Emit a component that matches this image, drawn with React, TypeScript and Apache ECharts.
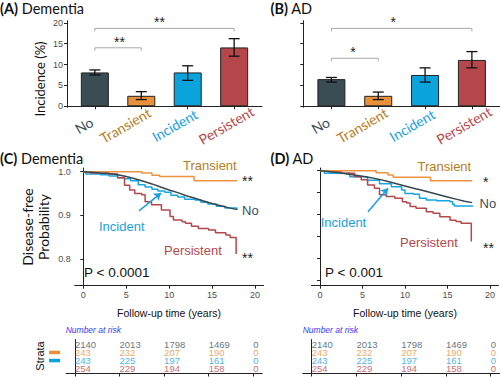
import React, { useEffect, useRef } from 'react';
import * as echarts from 'echarts';

const groups = ['No', 'Transient', 'Incident', 'Persistent'];
const barColors = ['#3B4D54', '#E8913A', '#0AA3DB', '#B5474B'];
const labelColors = ['#3B4F5A', '#B57D22', '#1AA0DC', '#B5474B'];
const lineColors = ['#37474F', '#EE9240', '#16A6E1', '#B5474B'];
const tableColors = ['#3B4F5A', '#E8913A', '#1AA0DC', '#B5474B'];
const labelShift = [-11, -16, -13, -8];

// Panel A / B: incidence (%) with 95% CI
const dementiaIncidence = [8.1, 2.5, 8.1, 14.1];
const dementiaLow = [7.5, 1.6, 6.2, 12.0];
const dementiaHigh = [8.7, 3.5, 9.7, 16.2];
const adIncidence = [6.5, 2.5, 7.5, 11.1];
const adLow = [5.8, 1.6, 5.8, 9.2];
const adHigh = [6.9, 3.4, 9.2, 13.1];
const incidenceTicks = [0, 5, 10, 15, 20];

// brackets: [from group, to group, height, star position]
const dementiaBrackets = [[1, 2, 14.0, 1.53], [1, 4, 18.66, 2.39]];
const dementiaStars = ['**', '**'];
const adBrackets = [[1, 2, 11.5, 1.46], [1, 4, 18.66, 2.32]];
const adStars = ['*', '*'];

// Kaplan-Meier curves: [time (years), disease-free probability]
const kmDemNo = [[0, 1.0], [1, 0.999], [2, 0.997], [3, 0.996], [4, 0.993], [5, 0.989], [6, 0.984], [7, 0.978], [8, 0.972], [9, 0.965], [10, 0.958], [11, 0.952], [12, 0.945], [13, 0.939], [14, 0.933], [15, 0.927], [16, 0.922], [17, 0.917], [17.9, 0.913]];
const kmDemTransient = [[0, 1.0], [6.8, 0.997], [8.0, 0.992], [8.9, 0.989], [12.9, 0.979], [17.9, 0.979]];
const kmDemIncident = [[0, 1.0], [0.3, 0.995], [2, 0.993], [3, 0.99], [4, 0.986], [4.8, 0.984], [5.5, 0.979], [6.4, 0.97], [7.2, 0.965], [8, 0.96], [8.7, 0.956], [9.5, 0.953], [10.2, 0.946], [11, 0.942], [11.8, 0.937], [13, 0.935], [13.7, 0.93], [14.5, 0.926], [15.5, 0.921], [16.5, 0.917], [17.9, 0.912]];
const kmDemPersistent = [[0, 1.0], [0.8, 0.997], [2.9, 0.995], [4.0, 0.986], [4.8, 0.969], [5.4, 0.958], [6.0, 0.95], [6.8, 0.947], [7.2, 0.931], [7.95, 0.924], [9.1, 0.912], [10.1, 0.897], [10.5, 0.889], [11.5, 0.885], [11.9, 0.882], [12.6, 0.875], [13.4, 0.87], [14.6, 0.866], [15.4, 0.86], [16.6, 0.855], [17.1, 0.849], [17.8, 0.811]];

const kmAdNo = [[0, 1.0], [1, 0.998], [2, 0.996], [3, 0.993], [4, 0.99], [5, 0.987], [6, 0.984], [7, 0.98], [8, 0.975], [9, 0.97], [10, 0.965], [11, 0.96], [12, 0.955], [13, 0.95], [14, 0.945], [15, 0.94], [16, 0.935], [17, 0.93], [17.9, 0.927]];
const kmAdTransient = [[0, 1.0], [6.6, 0.995], [8.0, 0.99], [8.6, 0.985], [13.0, 0.977], [17.9, 0.977]];
const kmAdIncident = [[0, 1.0], [0.5, 0.994], [3.5, 0.986], [5.6, 0.978], [7.0, 0.97], [8.4, 0.963], [9.6, 0.956], [10.0, 0.948], [11.0, 0.946], [11.7, 0.937], [12.5, 0.933], [13.7, 0.931], [15.3, 0.929], [15.6, 0.923], [15.8, 0.919], [18.0, 0.919]];
const kmAdPersistent = [[0, 1.0], [0.94, 0.998], [2.5, 0.994], [4.07, 0.986], [4.85, 0.979], [5.6, 0.967], [6.4, 0.96], [7.0, 0.945], [7.8, 0.941], [8.8, 0.937], [9.7, 0.929], [10.2, 0.926], [10.6, 0.918], [11.3, 0.914], [12.5, 0.906], [13.3, 0.903], [14.1, 0.895], [15.3, 0.887], [16.0, 0.884], [16.6, 0.88], [17.8, 0.838]];

const kmTimeTicks = [0, 5, 10, 15, 20];
const kmDemTicks = [0.8, 0.9, 1.0];
const kmAdTicks = [0.75, 0.8, 0.85, 0.9, 0.95, 1.0];

// Incident arrows: [[t0, s0], [t1, s1]]
const demArrow = [[6.49, 0.91], [9.05, 0.951]];
const adArrow = [[5.65, 0.906], [8.0, 0.96]];

// Number at risk
const riskTimes = [0, 5, 10, 15, 20];
const riskNo = [2140, 2013, 1798, 1469, 0];
const riskTransient = [243, 232, 207, 190, 0];
const riskIncident = [243, 225, 197, 161, 0];
const riskPersistent = [254, 229, 194, 158, 0];

const sans = 'Liberation Sans, Arial, Helvetica, sans-serif';
const human = 'Lato, "Open Sans", sans-serif';

function errorBarSeries(axis: number, lows: number[], highs: number[]) {
  return {
    type: 'custom', xAxisIndex: axis, yAxisIndex: axis, z: 5,
    data: lows.map((l, i) => [i + 1, l, highs[i]]),
    encode: { x: 0, y: [1, 2] },
    renderItem: (params: any, api: any) => {
      const x = api.value(0);
      const lo = api.coord([x, api.value(1)]);
      const hi = api.coord([x, api.value(2)]);
      const w = 5.5;
      const st = { stroke: '#111', lineWidth: 1.3 };
      return {
        type: 'group', children: [
          { type: 'line', shape: { x1: lo[0], y1: lo[1], x2: hi[0], y2: hi[1] }, style: st },
          { type: 'line', shape: { x1: lo[0] - w, y1: lo[1], x2: lo[0] + w, y2: lo[1] }, style: st },
          { type: 'line', shape: { x1: hi[0] - w, y1: hi[1], x2: hi[0] + w, y2: hi[1] }, style: st },
        ],
      };
    },
  };
}

function bracketSeries(axis: number, brackets: number[][], stars: string[]) {
  return {
    type: 'custom', xAxisIndex: axis, yAxisIndex: axis, z: 5,
    data: brackets,
    encode: { x: [0, 1], y: 2 },
    renderItem: (params: any, api: any) => {
      const y = api.value(2);
      const p1 = api.coord([api.value(0), y]);
      const p2 = api.coord([api.value(1), y]);
      const ps = api.coord([api.value(3), y]);
      return {
        type: 'group', children: [
          { type: 'polyline', shape: { points: [[p1[0], p1[1] + 3], [p1[0], p1[1]], [p2[0], p2[1]], [p2[0], p2[1] + 3]] }, style: { stroke: '#A8A8A8', lineWidth: 1, fill: 'none' } },
          { type: 'text', x: ps[0], y: p1[1] - 6, style: { text: stars[params.dataIndex], align: 'center', verticalAlign: 'middle', fontSize: 14, fill: '#222', fontFamily: sans } },
        ],
      };
    },
  };
}

function categoryLabelSeries(axis: number) {
  return {
    type: 'custom', xAxisIndex: axis, yAxisIndex: axis, clip: false, silent: true, z: 6,
    data: groups.map((g, i) => [i + 1, 0]),
    encode: { x: 0, y: 1 },
    renderItem: (params: any, api: any) => {
      const i = params.dataIndex;
      const p = api.coord([api.value(0), api.value(1)]);
      return {
        type: 'text', x: p[0] + labelShift[i], y: p[1] + 19, rotation: Math.PI / 6,
        style: { text: groups[i], fill: labelColors[i], fontSize: 14, fontFamily: human, align: 'center', verticalAlign: 'middle' },
      };
    },
  };
}

function barSeries(axis: number, values: number[]) {
  return {
    type: 'bar', xAxisIndex: axis, yAxisIndex: axis, barWidth: 28,
    data: values.map((v, i) => ({ value: [i + 1, v], itemStyle: { color: barColors[i] } })),
    itemStyle: { borderColor: '#222', borderWidth: 1 },
  };
}

function kmSeries(axis: number, curves: number[][][]) {
  const order = [2, 3, 1, 0];
  return order.map((k) => ({
    type: 'line', xAxisIndex: axis, yAxisIndex: axis, data: curves[k],
    step: k === 0 ? false : 'end', showSymbol: false, symbol: 'none',
    lineStyle: { color: lineColors[k], width: 1.5 }, itemStyle: { color: lineColors[k] },
  }));
}

function arrowSeries(axis: number, coords: number[][]) {
  return {
    type: 'lines', coordinateSystem: 'cartesian2d', xAxisIndex: axis, yAxisIndex: axis,
    data: [{ coords }], symbol: ['none', 'arrow'], symbolSize: 7,
    lineStyle: { color: '#1AA0DC', width: 1.5, opacity: 1 }, z: 6,
  };
}

function riskSeries(axis: number) {
  const rows = [riskNo, riskTransient, riskIncident, riskPersistent];
  return rows.map((r, i) => ({
    type: 'scatter', xAxisIndex: axis, yAxisIndex: axis, symbolSize: 0,
    data: riskTimes.map((t, j) => [t, i + 1, r[j]]),
    label: { show: true, position: 'right', distance: 0, formatter: (p: any) => String(p.data[2]), color: tableColors[i], fontSize: 9.5, lineHeight: 8, fontFamily: sans },
  }));
}

const axisLine = { show: true, lineStyle: { color: '#222', width: 1 } };
const tickStyle = { lineStyle: { color: '#222', width: 1 }, length: 3 };

function catXAxis(grid: number) {
  return {
    type: 'value', gridIndex: grid, min: 0.4, max: 4.6, splitLine: { show: false }, axisLine,
    axisTick: { ...tickStyle, customValues: [1, 2, 3, 4] },
    axisLabel: { show: false },
  };
}

function timeXAxis(grid: number, labels: boolean) {
  return {
    type: 'value', gridIndex: grid, min: -1, max: 21, splitLine: { show: false }, axisLine,
    axisTick: { ...tickStyle, customValues: kmTimeTicks },
    axisLabel: labels ? { customValues: kmTimeTicks, fontSize: 9, color: '#4D4D4D', fontFamily: sans, margin: 5 } : { show: false },
  };
}

function title(x: number, y: number, tag: string, name: string) {
  return { type: 'text', x, y, style: { text: `{b|${tag}} ${name}`, rich: { b: { fontWeight: 'bold', fontFamily: human, fontSize: 14.5, fill: '#111' } }, fontFamily: human, fontSize: 14.5, fill: '#111', verticalAlign: 'middle' } };
}

function note(x: number, y: number, text: string, fill: string, size = 13) {
  return { type: 'text', x, y, style: { text, fontFamily: sans, fontSize: size, fill, verticalAlign: 'middle' } };
}

export default function App() {
  const ref = useRef<HTMLDivElement>(null);
  useEffect(() => {
    if (!ref.current) return;
    const chart = echarts.init(ref.current, null, { renderer: 'svg' });
    const keyRich: any = {};
    barColors.forEach((c, i) => { keyRich['k' + (i + 1)] = { backgroundColor: c, width: 11, height: 3.5 }; });
    const option: any = {
      animation: false,
      backgroundColor: '#ffffff',
      grid: [
        { left: 67, top: 20.7, width: 195, height: 86.6, outerBoundsMode: 'none' },
        { left: 303.3, top: 20.7, width: 196.7, height: 86.6, outerBoundsMode: 'none' },
        { left: 74.7, top: 168, width: 188.9, height: 117.7, outerBoundsMode: 'none' },
        { left: 311.5, top: 168, width: 187, height: 117.7, outerBoundsMode: 'none' },
        { left: 66.1, top: 339.5, width: 196, height: 34, outerBoundsMode: 'none' },
        { left: 302.7, top: 339.5, width: 196.9, height: 34, outerBoundsMode: 'none' },
      ],
      xAxis: [
        catXAxis(0), catXAxis(1),
        timeXAxis(2, true), timeXAxis(3, true),
        timeXAxis(4, false), timeXAxis(5, false),
      ],
      yAxis: [
        { type: 'value', gridIndex: 0, min: -0.25, max: 20.5, splitLine: { show: false }, axisLine, axisTick: { ...tickStyle, customValues: incidenceTicks }, axisLabel: { customValues: incidenceTicks, fontSize: 9, color: '#4D4D4D', fontFamily: sans, margin: 4 } },
        { type: 'value', gridIndex: 1, min: -0.25, max: 20.5, splitLine: { show: false }, axisLine, axisTick: { ...tickStyle, customValues: incidenceTicks }, axisLabel: { show: false } },
        { type: 'value', gridIndex: 2, min: 0.7385, max: 1.0085, splitLine: { show: false }, axisLine, axisTick: { ...tickStyle, customValues: kmDemTicks }, axisLabel: { customValues: kmDemTicks, formatter: (v: number) => v.toFixed(1), fontSize: 9, color: '#4D4D4D', fontFamily: sans, margin: 4 } },
        { type: 'value', gridIndex: 3, min: 0.7374, max: 1.006, splitLine: { show: false }, axisLine, axisTick: { ...tickStyle, customValues: kmAdTicks }, axisLabel: { show: false } },
        { type: 'value', gridIndex: 4, min: 0.4, max: 4.6, inverse: true, splitLine: { show: false }, axisLine, axisTick: { show: false }, axisLabel: { customValues: [1, 2, 3, 4], formatter: (v: number) => `{k${v}| }`, rich: keyRich, margin: 6 } },
        { type: 'value', gridIndex: 5, min: 0.4, max: 4.6, inverse: true, splitLine: { show: false }, axisLine, axisTick: { show: false }, axisLabel: { show: false } },
      ],
      series: [
        barSeries(0, dementiaIncidence), errorBarSeries(0, dementiaLow, dementiaHigh), bracketSeries(0, dementiaBrackets, dementiaStars), categoryLabelSeries(0),
        barSeries(1, adIncidence), errorBarSeries(1, adLow, adHigh), bracketSeries(1, adBrackets, adStars), categoryLabelSeries(1),
        ...kmSeries(2, [kmDemNo, kmDemTransient, kmDemIncident, kmDemPersistent]),
        ...kmSeries(3, [kmAdNo, kmAdTransient, kmAdIncident, kmAdPersistent]),
        arrowSeries(2, demArrow), arrowSeries(3, adArrow),
        ...riskSeries(4), ...riskSeries(5),
      ],
      graphic: [
        title(0, 8.5, '(A)', 'Dementia'),
        title(270.5, 8.5, '(B)', 'AD'),
        title(0, 158.3, '(C)', 'Dementia'),
        title(270.5, 158.3, '(D)', 'AD'),
        { type: 'text', x: 40, y: 79, rotation: Math.PI / 2, style: { text: 'Incidence (%)', fontFamily: human, fontSize: 13, fill: '#111', align: 'center', verticalAlign: 'middle' } },
        { type: 'text', x: 35, y: 227, rotation: Math.PI / 2, style: { text: 'Disease-free\nProbability', fontFamily: human, fontSize: 14, lineHeight: 16, fill: '#111', align: 'center', verticalAlign: 'middle' } },
        { type: 'text', x: 169, y: 312.5, style: { text: 'Follow-up time (years)', fontFamily: sans, fontSize: 10.5, fill: '#111', align: 'center', verticalAlign: 'middle' } },
        { type: 'text', x: 405, y: 312.5, style: { text: 'Follow-up time (years)', fontFamily: sans, fontSize: 10.5, fill: '#111', align: 'center', verticalAlign: 'middle' } },
        // C annotations
        note(183, 165.7, 'Transient', '#B57D22'),
        note(99, 226, 'Incident', '#1AA0DC'),
        note(164, 250, 'Persistent', '#B5474B'),
        note(242, 181, '**', '#222', 14),
        note(242, 210.5, 'No', '#3B4F5A'),
        note(242, 258, '**', '#222', 14),
        note(84, 272.7, 'P < 0.0001', '#111', 13.5),
        // D annotations
        note(417.5, 166.2, 'Transient', '#B57D22'),
        note(320.7, 222.3, 'Incident', '#1AA0DC'),
        note(400, 242, 'Persistent', '#B5474B'),
        note(483, 182, '*', '#222', 14),
        note(479.5, 203.5, 'No', '#3B4F5A'),
        note(483, 248, '**', '#222', 14),
        note(325, 272.3, 'P < 0.001', '#111', 13.5),
        // risk tables
        { type: 'text', x: 65.7, y: 330, style: { text: 'Number at risk', fontFamily: sans, fontSize: 8.5, fontStyle: 'italic', fill: '#3A3AF0', verticalAlign: 'middle' } },
        { type: 'text', x: 302.7, y: 330, style: { text: 'Number at risk', fontFamily: sans, fontSize: 8.5, fontStyle: 'italic', fill: '#3A3AF0', verticalAlign: 'middle' } },
        { type: 'text', x: 40, y: 356, rotation: Math.PI / 2, style: { text: 'Strata', fontFamily: sans, fontSize: 11, fill: '#111', align: 'center', verticalAlign: 'middle' } },
      ],
    };
    chart.setOption(option);
    return () => chart.dispose();
  }, []);
  return <div ref={ref} style={{ position: 'absolute', left: 0, top: 0, width: 500, height: 377, background: '#fff' }} />;
}
